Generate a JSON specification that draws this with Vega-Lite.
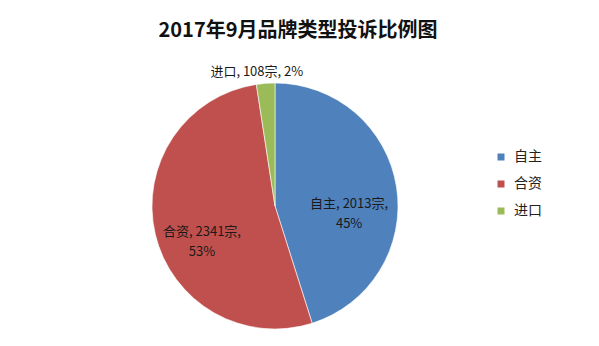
{
  "$schema": "https://vega.github.io/schema/vega-lite/v6.json",
  "autosize": "none",
  "width": 550,
  "height": 246,
  "padding": {"left": 0, "top": 83, "right": 49, "bottom": 17},
  "background": "white",
  "config": {"view": {"stroke": null}, "font": "Noto Sans CJK SC"},
  "title": {
    "text": "2017年9月品牌类型投诉比例图",
    "fontSize": 20,
    "fontWeight": "bold",
    "color": "#111111",
    "font": "Noto Sans CJK SC",
    "anchor": "middle",
    "frame": "group",
    "dx": 23,
    "offset": 25
  },
  "data": {
    "values": [
      {"name": "自主", "count": 2013, "order": 1, "label": "自主, 2013宗,\n45%"},
      {"name": "合资", "count": 2341, "order": 2, "label": "合资, 2341宗,\n53%"},
      {"name": "进口", "count": 108, "order": 3, "label": "进口, 108宗, 2%"}
    ]
  },
  "encoding": {
    "theta": {"field": "count", "type": "quantitative", "stack": true},
    "order": {"field": "order", "type": "quantitative"}
  },
  "layer": [
    {
      "mark": {"type": "arc", "outerRadius": 123, "stroke": "#ffffff", "strokeWidth": 0.6},
      "encoding": {
        "color": {
          "field": "name",
          "type": "nominal",
          "scale": {"domain": ["自主", "合资", "进口"], "range": ["#4F81BD", "#C0504D", "#9BBB59"]},
          "legend": {
            "title": null,
            "orient": "none",
            "legendX": 494,
            "legendY": 67,
            "symbolType": "square",
            "symbolSize": 49,
            "symbolStrokeWidth": 0,
            "labelFontSize": 14,
            "labelColor": "#222222",
            "labelFont": "Noto Sans CJK SC",
            "rowPadding": 13,
            "labelOffset": 6
          }
        }
      }
    },
    {
      "mark": {"type": "text", "radius": 75, "fontSize": 13, "lineBreak": "\n", "lineHeight": 20, "align": "center", "baseline": "middle", "dy": 9, "color": "#1a1a1a"},
      "encoding": {
        "text": {"condition": {"test": "datum.name === '进口'", "value": ""}, "field": "label"}
      }
    },
    {
      "mark": {"type": "text", "radius": 134, "fontSize": 13, "align": "center", "baseline": "middle", "dx": -8, "color": "#1a1a1a"},
      "encoding": {
        "text": {"condition": {"test": "datum.name !== '进口'", "value": ""}, "field": "label"}
      }
    }
  ]
}
